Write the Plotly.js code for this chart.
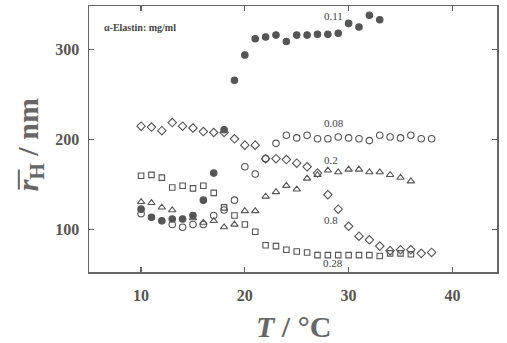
<!DOCTYPE html>
<html>
<head>
<meta charset="utf-8">
<script src="https://cdn.plot.ly/plotly-3.0.1.min.js"></script>
<style>html,body{margin:0;padding:0;background:#fff;}#chart{width:507px;height:343px;}</style>
</head>
<body>
<div id="chart"></div>
<script>
// alpha-Elastin concentration series (mg/ml): temperature T (°C) and hydrodynamic radius rH (nm)
const t011 = [10,11,12,13,14,15,16,17,18,19,20,21,22,23,24,25,26,27,28,29,30,31,32,33];
const r011 = [123,114,110,112,112,116,133,163,211,266,294,312,314,316,309,316,316,317,317,318,329,325,338,333];

const t008 = [10,13,14,15,16,17,18,19,20,21,22,23,24,25,26,27,28,29,30,31,32,33,34,35,36,37,38];
const r008 = [118,106,103,106,106,116,122,133,170,162,179,196,205,202,205,201,201,203,202,201,199,205,203,202,205,201,201];

const t02 = [10,11,12,13,15,16,17,18,19,20,21,22,23,24,25,26,27,28,29,30,31,32,33,34,35,36];
const r02 = [131,130,125,122,113,108,110,103,106,121,121,137,142,149,145,157,161,166,164,167,167,164,164,161,158,154];

const t028 = [10,11,12,13,14,15,16,17,18,19,20,21,22,23,24,25,26,27,28,29,30,31,32,33,34,35,36];
const r028 = [160,161,158,147,149,146,149,141,125,116,106,98,83,82,78,76,75,72,72,72,72,72,72,71,74,74,73];

const t08 = [10,11,12,13,14,15,16,17,18,19,20,21,22,23,24,25,26,27,28,29,30,31,32,33,34,35,36,37,38];
const r08 = [215,214,210,219,215,213,209,208,208,201,194,194,179,179,178,174,170,163,139,123,104,93,89,82,77,78,78,74,75];

const seriesLabels = ['0.11','0.08','0.2','0.8','0.28'];
const labelT = [28.5,28.6,28.3,28.3,28.5];
const labelR = [337,218,177,111,63];

const xTicks = [10,20,30,40];
const yTicks = [100,200,300];

const ink = '#555';
function tr(x, y, sym, size) {
  return {
    x: x, y: y, type: 'scatter', mode: 'markers', hoverinfo: 'skip',
    marker: {symbol: sym, size: size, color: ink, line: {color: ink, width: 1.1}}
  };
}
const data = [
  tr(t08, r08, 'diamond-open', 6.5),
  tr(t028, r028, 'square-open', 5.5),
  tr(t02, r02, 'triangle-up-open', 6.5),
  tr(t008, r008, 'circle-open', 6.5),
  tr(t011, r011, 'circle', 6.5)
];

const serif = 'Liberation Serif, Times New Roman, serif';
const annotations = seriesLabels.map((s, i) => ({
  x: labelT[i], y: labelR[i], xref: 'x', yref: 'y', text: s, showarrow: false,
  font: {family: serif, size: 11, color: '#444'}
}));
annotations.push({
  x: 6.2, y: 324, xref: 'x', yref: 'y', xanchor: 'left', text: 'α-Elastin: mg/ml', showarrow: false,
  font: {family: serif, size: 10, color: '#444', weight: 'bold'}
});
annotations.push({
  x: 0.5, y: -0.205, xref: 'paper', yref: 'paper', yanchor: 'middle', showarrow: false,
  text: '<b><i>T</i> / °C</b>', font: {family: serif, size: 30, color: '#666'}
});
annotations.push({
  x: -0.145, y: 0.48, xref: 'paper', yref: 'paper', xanchor: 'center', yanchor: 'middle', showarrow: false, textangle: -90,
  text: '<b><i>r</i><sub>H</sub> / nm</b>', font: {family: serif, size: 30, color: '#666'}
});

const axisCommon = {
  showgrid: false, zeroline: false, showline: true, mirror: 'ticks',
  linecolor: '#666', linewidth: 1.5, ticks: 'inside', ticklen: 5, tickwidth: 1.2, tickcolor: '#666',
  tickfont: {family: serif, size: 16, color: '#555', weight: 'bold'}
};
const layout = {
  width: 507, height: 343, showlegend: false,
  paper_bgcolor: '#fff', plot_bgcolor: '#fff',
  margin: {l: 89, r: 10, t: 6, b: 71},
  xaxis: Object.assign({}, axisCommon, {range: [4.98, 44.3], tickvals: xTicks, ticklabelstandoff: 8}),
  yaxis: Object.assign({}, axisCommon, {range: [53.3, 348.3], tickvals: yTicks, ticklabelstandoff: 5}),
  annotations: annotations,
  shapes: [{type: 'line', xref: 'paper', yref: 'paper', x0: -0.172, x1: -0.172, y0: 0.31, y1: 0.385,
            line: {color: '#666', width: 2}}]
};
Plotly.newPlot('chart', data, layout, {staticPlot: true});
</script>
</body>
</html>
